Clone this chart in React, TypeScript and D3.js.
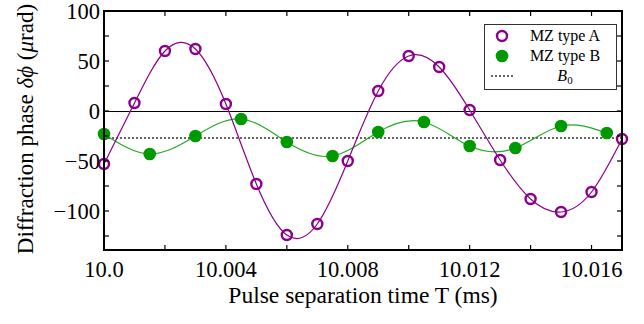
import React, { useRef, useEffect } from "react";
import * as d3 from "d3";

// MZ type A (open purple circles)
const timeA = [10.0, 10.001, 10.002, 10.003, 10.004, 10.005, 10.006, 10.007, 10.008, 10.009, 10.01, 10.011, 10.012, 10.013, 10.014, 10.015, 10.016, 10.017];
const phaseA = [-53, 8, 60, 62, 7, -73, -124, -113, -50, 20, 55, 44, 1, -49, -88, -101, -81, -28];

// MZ type B (filled green circles)
const timeB = [10.0, 10.0015, 10.003, 10.0045, 10.006, 10.0075, 10.009, 10.0105, 10.012, 10.0135, 10.015, 10.0165];
const phaseB = [-23, -43, -25, -8, -31, -45, -21, -11, -35, -37, -15, -22];

const B0 = -27;

const xTicks = [10.0, 10.004, 10.008, 10.012, 10.016];
const xTickLabels = ["10.0", "10.004", "10.008", "10.012", "10.016"];
const xMinorTicks = [10.002, 10.006, 10.01, 10.014];
const yTicks = [100, 50, 0, -50, -100];
const yMinorTicks = [75, 25, -25, -75, -125];

const W = 644;
const H = 324;
const margin = { top: 11, right: 22, bottom: 74, left: 104 };
const font = "Liberation Serif, Times New Roman, serif";

export default function App() {
  const svgRef = useRef<SVGSVGElement>(null);

  useEffect(() => {
    const svg = d3.select(svgRef.current);
    svg.selectAll("*").remove();

    const x = d3.scaleLinear().domain([10.0, 10.017]).range([margin.left, W - margin.right]);
    const y = d3.scaleLinear().domain([-139, 100]).range([H - margin.bottom, margin.top]);
    const [x0, x1] = x.range();
    const [y0, y1] = y.range();

    const g = svg.append("g").attr("font-family", font);

    // zero line
    g.append("line")
      .attr("x1", x0).attr("x2", x1)
      .attr("y1", y(0) + 0.5).attr("y2", y(0) + 0.5)
      .attr("stroke", "#000").attr("stroke-width", 1);

    // B0 dotted
    g.append("line")
      .attr("x1", x0).attr("x2", x1)
      .attr("y1", y(B0)).attr("y2", y(B0))
      .attr("stroke", "#666").attr("stroke-width", 2)
      .attr("stroke-dasharray", "2,2");

    const dataA = timeA.map((t, i) => [t, phaseA[i]] as [number, number]);
    const dataB = timeB.map((t, i) => [t, phaseB[i]] as [number, number]);

    const line = d3.line<[number, number]>()
      .x((d) => x(d[0]))
      .y((d) => y(d[1]))
      .curve(d3.curveNatural);

    g.append("path").datum(dataB)
      .attr("fill", "none").attr("stroke", "#22aa22").attr("stroke-width", 1.2)
      .attr("d", line);
    g.append("path").datum(dataA)
      .attr("fill", "none").attr("stroke", "#8b008b").attr("stroke-width", 1.2)
      .attr("d", line);

    g.append("g").selectAll("circle").data(dataB).join("circle")
      .attr("cx", (d) => x(d[0])).attr("cy", (d) => y(d[1]))
      .attr("r", 6.3).attr("fill", "#009900");

    g.append("g").selectAll("circle").data(dataA).join("circle")
      .attr("cx", (d) => x(d[0])).attr("cy", (d) => y(d[1]))
      .attr("r", 5).attr("fill", "none")
      .attr("stroke", "#8b008b").attr("stroke-width", 2.4);

    // ticks (inward, all sides)
    const tl = 5;
    const ticks = g.append("g").attr("stroke", "#000").attr("stroke-width", 1.2);
    [...xTicks, ...xMinorTicks].forEach((t) => {
      ticks.append("line").attr("x1", x(t)).attr("x2", x(t)).attr("y1", y0).attr("y2", y0 - tl);
      ticks.append("line").attr("x1", x(t)).attr("x2", x(t)).attr("y1", y1).attr("y2", y1 + tl);
    });
    [...yTicks, ...yMinorTicks].forEach((t) => {
      ticks.append("line").attr("x1", x0).attr("x2", x0 + tl).attr("y1", y(t)).attr("y2", y(t));
      ticks.append("line").attr("x1", x1).attr("x2", x1 - tl).attr("y1", y(t)).attr("y2", y(t));
    });

    // frame
    g.append("rect")
      .attr("x", x0).attr("y", y1)
      .attr("width", x1 - x0).attr("height", y0 - y1)
      .attr("fill", "none").attr("stroke", "#000").attr("stroke-width", 2);

    // tick labels
    g.append("g").selectAll("text").data(xTicks).join("text")
      .attr("x", (d) => x(d)).attr("y", y0 + 27)
      .attr("text-anchor", "middle")
      .attr("font-size", 22.5)
      .text((d, i) => xTickLabels[i]);

    g.append("g").selectAll("text").data(yTicks).join("text")
      .attr("x", x0 - 4).attr("y", (d) => y(d) + 8)
      .attr("text-anchor", "end")
      .attr("font-size", 22.5)
      .text((d) => (d < 0 ? "\u2212" + Math.abs(d) : String(d)));

    // axis titles
    g.append("text")
      .attr("x", (x0 + x1) / 2).attr("y", 303)
      .attr("text-anchor", "middle")
      .attr("font-size", 23.5)
      .text("Pulse separation time T (ms)");

    const yl = g.append("text")
      .attr("transform", `translate(33,129) rotate(-90)`)
      .attr("text-anchor", "middle")
      .attr("font-size", 23);
    yl.append("tspan").text("Diffraction phase ");
    yl.append("tspan").attr("font-style", "italic").text("\u03b4\u03d5");
    yl.append("tspan").text(" (");
    yl.append("tspan").attr("font-style", "italic").text("\u03bc");
    yl.append("tspan").text("rad)");

    // legend
    const lg = g.append("g");
    lg.append("rect")
      .attr("x", 484.5).attr("y", 24.5).attr("width", 132).attr("height", 65)
      .attr("fill", "#fff").attr("stroke", "#333").attr("stroke-width", 1);
    lg.append("circle").attr("cx", 502).attr("cy", 36).attr("r", 5)
      .attr("fill", "none").attr("stroke", "#8b008b").attr("stroke-width", 2.4);
    lg.append("circle").attr("cx", 502).attr("cy", 56).attr("r", 6.3).attr("fill", "#009900");
    lg.append("line").attr("x1", 491).attr("x2", 513).attr("y1", 76).attr("y2", 76)
      .attr("stroke", "#666").attr("stroke-width", 2).attr("stroke-dasharray", "2,2");
    const lt = [["MZ type A", 41], ["MZ type B", 61]] as [string, number][];
    lt.forEach(([s, yy]) => {
      lg.append("text").attr("x", 565).attr("y", yy).attr("text-anchor", "middle")
        .attr("font-size", 16).text(s);
    });
    const b0 = lg.append("text").attr("x", 565).attr("y", 81).attr("text-anchor", "middle")
      .attr("font-size", 16);
    b0.append("tspan").attr("font-style", "italic").text("B");
    b0.append("tspan").attr("font-size", 11).attr("dy", 3).text("0");
  }, []);

  return (
    <svg
      ref={svgRef}
      width={W}
      height={H}
      style={{ position: "absolute", left: 0, top: 0, background: "#fff" }}
    />
  );
}
